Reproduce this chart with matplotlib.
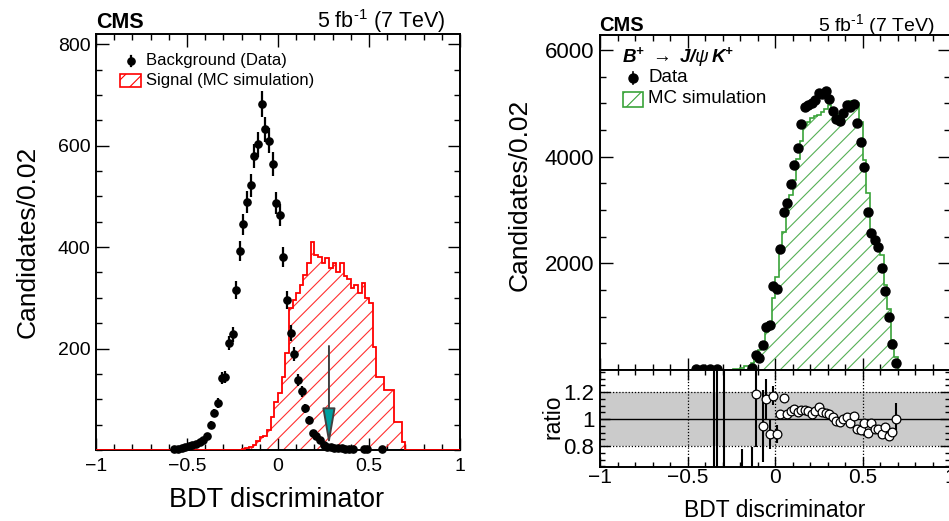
import numpy as np
import matplotlib
matplotlib.use("Agg")
import matplotlib.pyplot as plt
from matplotlib.patches import Rectangle, FancyArrowPatch
from matplotlib.lines import Line2D
from matplotlib.ticker import MultipleLocator

plt.rcParams['font.family'] = ['Liberation Sans', 'DejaVu Sans']
plt.rcParams['mathtext.fontset'] = 'custom'
plt.rcParams['mathtext.rm'] = 'Liberation Sans'
plt.rcParams['mathtext.it'] = 'Liberation Sans:italic'
plt.rcParams['mathtext.bf'] = 'Liberation Sans:bold'
plt.rcParams['mathtext.bfit'] = 'Liberation Sans:bold:italic'
plt.rcParams['hatch.linewidth'] = 0.8

# ---------------- data: left panel ----------------
bin_width = 0.02
bkg_x = [-0.57, -0.55, -0.53, -0.51, -0.49, -0.47, -0.45, -0.43, -0.41, -0.39,
         -0.37, -0.35, -0.33, -0.31, -0.29, -0.27, -0.25, -0.23, -0.21, -0.19,
         -0.17, -0.15, -0.13, -0.11, -0.09, -0.07, -0.05, -0.03, -0.01, 0.01,
         0.03, 0.05, 0.07, 0.09, 0.11, 0.13, 0.15, 0.17, 0.19, 0.21,
         0.23, 0.25, 0.27, 0.29, 0.31, 0.33, 0.35, 0.37, 0.39, 0.41,
         0.47, 0.49, 0.57]
bkg_y = [1, 2, 3, 5, 7, 9, 12, 15, 20, 28,
         50, 73, 93, 141, 144, 211, 228, 315, 393, 445,
         489, 522, 579, 603, 682, 632, 610, 564, 487, 464,
         381, 296, 231, 189, 138, 116, 82, 60, 33, 28,
         20, 10, 6, 5, 4, 3, 3, 2, 2, 2,
         1, 1, 1]

sig_first_edge = -0.20
sig_vals = [2, 3, 5, 10, 18, 26, 28, 39, 66, 95,
            112, 144, 191, 279, 296, 309, 325, 345, 368, 410,
            384, 381, 368, 378, 358, 368, 350, 368, 342, 338,
            320, 325, 310, 330, 300, 290, 204, 144, 144, 118,
            118, 118, 56, 56, 16]
cut_x = 0.28
arrow_top = 205
arrow_tip = 8

# ---------------- data: right panel ----------------
mc_first_edge = -0.26
mc_vals = [5, 20, 25, 30, 75, 75, 125, 250, 375, 531,
           719, 906, 1344, 1750, 2200, 2580, 3030, 3280, 3570, 3950,
           4300, 4600, 4650, 4720, 4760, 4780, 4830, 4900, 4960, 4880,
           4800, 4760, 4800, 4900, 5050, 5050, 5000, 4650, 3940, 3310,
           2600, 2500, 2350, 2150, 1600, 1150, 560, 250]
dat_x = [-0.45, -0.41, -0.37, -0.33, -0.13, -0.11, -0.09, -0.07, -0.05, -0.03,
         -0.01, 0.01, 0.03, 0.05, 0.07, 0.09, 0.11, 0.13, 0.15, 0.17,
         0.19, 0.21, 0.23, 0.25, 0.27, 0.29, 0.31, 0.33, 0.35, 0.37,
         0.39, 0.41, 0.43, 0.45, 0.47, 0.49, 0.51, 0.53, 0.55, 0.57,
         0.59, 0.61, 0.63, 0.65, 0.67, 0.69]
dat_y = [10, 10, 10, 10, 31, 281, 219, 469, 812, 844,
         1575, 1513, 2263, 2969, 3138, 3487, 3844, 4156, 4619, 4925,
         4969, 5000, 5063, 5188, 5170, 5231, 5081, 4863, 4700, 4675,
         4813, 4969, 4925, 4988, 4638, 4281, 3813, 2960, 2575, 2438,
         2300, 1906, 1488, 1000, 488, 125]

ratio_x = [-0.35, -0.33, -0.29, -0.19, -0.13, -0.11, -0.07, -0.05, -0.03, -0.01,
           0.01, 0.03, 0.05, 0.07, 0.09, 0.11, 0.13, 0.15, 0.17, 0.19,
           0.21, 0.23, 0.25, 0.27, 0.29, 0.31, 0.33, 0.35, 0.37, 0.39,
           0.41, 0.43, 0.45, 0.47, 0.49, 0.51, 0.53, 0.55, 0.57, 0.59,
           0.61, 0.63, 0.65, 0.67, 0.69]
ratio_y = [3.0, 3.0, 3.0, 0.35, 0.35, 1.19, 0.95, 1.15, 0.89, 1.175,
           0.89, 1.04, 1.16, 1.04, 1.058, 1.075, 1.05, 1.067, 1.067, 1.063,
           1.039, 1.063, 1.087, 1.05, 1.043, 1.039, 1.014, 0.99, 0.978, 1.002,
           1.014, 0.971, 1.026, 0.93, 0.918, 0.971, 0.899, 0.971, 0.93, 0.93,
           0.887, 0.942, 0.875, 0.906, 1.002]
ratio_err = [3.0, 3.0, 3.0, 0.43, 0.44, 0.40, 0.27, 0.15, 0.11, 0.07,
             0.07, 0.03, 0.03, 0.02, 0.02, 0.02, 0.02, 0.02, 0.02, 0.02,
             0.02, 0.02, 0.02, 0.02, 0.02, 0.02, 0.02, 0.02, 0.02, 0.02,
             0.02, 0.02, 0.02, 0.02, 0.02, 0.02, 0.02, 0.02, 0.02, 0.02,
             0.02, 0.02, 0.025, 0.03, 0.12]

xticks = [-1, -0.5, 0, 0.5, 1]
xtick_labels = ['\u22121', '\u22120.5', '0', '0.5', '1']
left_yticks = [200, 400, 600, 800]
right_yticks = [2000, 4000, 6000]
ratio_yticks = [0.8, 1.0, 1.2]
ratio_ytick_labels = ['0.8', '1', '1.2']

# ---------------- layout ----------------
W, H = 949, 521
fig = plt.figure(figsize=(W / 100, H / 100), dpi=100)
fx = lambda px: px / W
fy = lambda py: 1 - py / H

axL = fig.add_axes([fx(96), fy(450), (460 - 96) / W, (450 - 34) / H])
axR = fig.add_axes([fx(600), fy(370), (950 - 600) / W, (370 - 35) / H])
axQ = fig.add_axes([fx(600), fy(467), (950 - 600) / W, (467 - 370) / H])

def style_axes(ax, xminor, yminor, lsize):
    ax.xaxis.set_minor_locator(MultipleLocator(xminor))
    ax.yaxis.set_minor_locator(MultipleLocator(yminor))
    ax.tick_params(which='both', direction='in', top=True, right=True,
                   width=1.0, labelsize=lsize)
    ax.tick_params(which='major', length=9)
    ax.tick_params(which='minor', length=4.5)
    for s in ax.spines.values():
        s.set_linewidth(1.4)

# ---------------- left panel ----------------
n_bins_total = int(round(2 / bin_width))
sig_full = np.zeros(n_bins_total)
i0 = int(round((sig_first_edge + 1) / bin_width))
sig_full[i0:i0 + len(sig_vals)] = sig_vals
edges_full = np.linspace(-1, 1, n_bins_total + 1)
axL.stairs(sig_full, edges_full, fill=True, facecolor='none',
           edgecolor='#ff3030', hatch='//', linewidth=0, zorder=2)
axL.stairs(sig_full, edges_full, fill=False, edgecolor='#ff0000',
           linewidth=1.3, zorder=3)
axL.errorbar(bkg_x, bkg_y, yerr=np.sqrt(bkg_y), fmt='o', color='black',
             ms=5.2, elinewidth=1.6, capsize=0, zorder=4, clip_on=False)
arr = FancyArrowPatch((cut_x, arrow_top), (cut_x, arrow_tip),
                      arrowstyle='-|>,head_length=2.3,head_width=0.4',
                      mutation_scale=10, shrinkA=0, shrinkB=0,
                      lw=1.4, ec='#404040', fc='#00a0a0', zorder=5)
axL.add_patch(arr)
axL.set_xlim(-1, 1)
axL.set_ylim(0, 820)
axL.set_xticks(xticks)
axL.set_xticklabels(xtick_labels)
axL.set_yticks(left_yticks)
style_axes(axL, 0.1, 50, 14)
axL.tick_params(axis='x', pad=6)
axL.tick_params(axis='y', pad=4)

# ---------------- right upper panel ----------------
mc_edges = mc_first_edge + bin_width * np.arange(len(mc_vals) + 1)
axR.stairs(mc_vals, mc_edges, fill=True, facecolor='none',
           edgecolor='#55b055', hatch='//', linewidth=0, zorder=2)
axR.stairs(mc_vals, mc_edges, fill=False, edgecolor='#3aa33a',
           linewidth=1.2, zorder=3)
axR.errorbar(dat_x, dat_y, yerr=np.sqrt(dat_y), fmt='o', color='black',
             ms=6.5, elinewidth=1.2, capsize=0, zorder=4)
axR.set_xlim(-1, 1)
axR.set_ylim(0, 6280)
axR.set_xticks(xticks)
axR.set_yticks(right_yticks)
style_axes(axR, 0.1, 500, 16)
axR.tick_params(axis='x', labelbottom=False)
axR.tick_params(axis='y', pad=4)

# ---------------- ratio panel ----------------
axQ.axhspan(0.8, 1.2, color='#cbcbcb', zorder=0, lw=0)
for gx in [-0.5, 0, 0.5]:
    axQ.axvline(gx, color='black', lw=0.9, ls=(0, (1, 1.5)), zorder=1)
for gy in [0.8, 1.2]:
    axQ.axhline(gy, color='black', lw=0.9, ls=(0, (1, 1.5)), zorder=1)
axQ.axhline(1.0, color='black', lw=1.0, zorder=1)
axQ.errorbar(ratio_x, ratio_y, yerr=ratio_err, fmt='o', mfc='white',
             mec='black', ecolor='black', ms=6.3, mew=0.9, elinewidth=1.5,
             capsize=0, zorder=3)
axQ.set_xlim(-1, 1)
axQ.set_ylim(0.645, 1.365)
axQ.set_xticks(xticks)
axQ.set_xticklabels(xtick_labels)
axQ.set_yticks(ratio_yticks)
axQ.set_yticklabels(ratio_ytick_labels)
style_axes(axQ, 0.1, 0.05, 16)
axQ.tick_params(axis='x', pad=1, labelsize=15)
axQ.tick_params(axis='y', pad=4)
axQ.tick_params(which='major', length=7)
axQ.tick_params(which='minor', length=3.5)

# ---------------- texts ----------------
fig.text(fx(28), fy(242), 'Candidates/0.02', rotation=90, ha='center',
         va='center', fontsize=19)
fig.text(fx(277), fy(507), 'BDT discriminator', ha='center', va='baseline',
         fontsize=19.5)
fig.text(fx(520), fy(195), 'Candidates/0.02', rotation=90, ha='center',
         va='center', fontsize=19)
fig.text(fx(553), fy(417), 'ratio', rotation=90, ha='center', va='center',
         fontsize=16.5)
fig.text(fx(775), fy(517), 'BDT discriminator', ha='center', va='baseline',
         fontsize=16.5)

lumi = r'5 fb$^{\text{-1}}$ (7 TeV)'
fig.text(fx(96), fy(28), 'CMS', fontweight='bold', fontsize=15.5,
         ha='left', va='baseline')
fig.text(fx(445), fy(28), lumi, fontsize=15.5, ha='right', va='baseline')
fig.text(fx(599), fy(31), 'CMS', fontweight='bold', fontsize=14.5,
         ha='left', va='baseline')
fig.text(fx(935), fy(31), lumi, fontsize=14, ha='right', va='baseline')

# ---------------- legends ----------------
# left
fig.add_artist(Line2D([fx(131), fx(131)], [fy(56), fy(66)], color='black', lw=1.6))
fig.add_artist(Line2D([fx(131)], [fy(61)], marker='o', color='black', ms=5.2))
fig.text(fx(146), fy(61), 'Background (Data)', fontsize=12, ha='left', va='center')
fig.add_artist(Rectangle((fx(120), fy(87)), (141 - 120) / W, (87 - 74) / H,
                         facecolor='white', edgecolor='#ff0000', hatch='//',
                         lw=1.2, transform=fig.transFigure))
fig.text(fx(146), fy(80), 'Signal (MC simulation)', fontsize=12, ha='left', va='center')

# right
fig.text(fx(622), fy(57),
         r'$\mathbfit{B}^{\mathbfit{+}}\ \rightarrow\ \mathbfit{J/}\psi\,\mathbfit{K}^{\mathbfit{+}}$',
         fontsize=13.5, ha='left', va='center')
fig.add_artist(Line2D([fx(633), fx(633)], [fy(72), fy(84)], color='black', lw=1.2))
fig.add_artist(Line2D([fx(633)], [fy(78)], marker='o', color='black', ms=6.5))
fig.text(fx(648), fy(78), 'Data', fontsize=13.5, ha='left', va='center')
fig.add_artist(Rectangle((fx(623), fy(107)), (643 - 623) / W, (107 - 92) / H,
                         facecolor='white', edgecolor='#3aa33a', hatch='//',
                         lw=1.2, transform=fig.transFigure))
fig.text(fx(648), fy(99), 'MC simulation', fontsize=13.5, ha='left', va='center')

fig.savefig('out.png', dpi=100)
